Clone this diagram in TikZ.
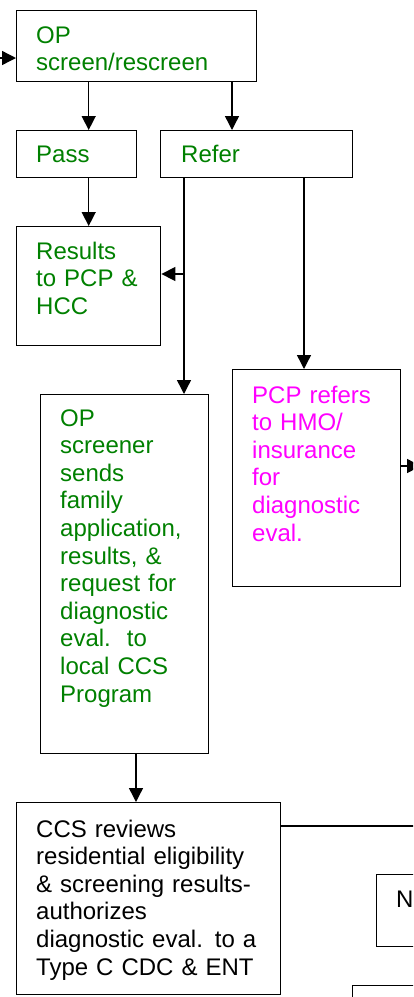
\documentclass[tikz,border=0pt]{standalone}
\usepackage{fontspec}
\setmainfont{Liberation Sans}
\usetikzlibrary{arrows.meta}
\definecolor{tgreen}{RGB}{0,128,0}
\definecolor{tmag}{RGB}{255,0,255}
\begin{document}
\begin{tikzpicture}[x=1pt,y=-1pt,
  box/.style={draw, line width=1.4pt, inner sep=0pt, anchor=north west},
  txt/.style={anchor=base west, inner sep=0pt, text width=#1, align=left, font=\fontsize{24}{27.6}\selectfont},
  txt/.default=150pt,
  arr/.style={line width=1.4pt, -{Triangle[length=14pt,width=14pt]}},
  ln/.style={line width=1.4pt}]
\useasboundingbox (0,0) rectangle (413,997);
\clip (0,0) rectangle (413,997);
% boxes
\node[box, minimum width=240pt, minimum height=71pt] (op) at (16,10) {};
\node[box, minimum width=120pt, minimum height=47pt] (pass) at (16,130) {};
\node[box, minimum width=192pt, minimum height=47pt] (refer) at (160,130) {};
\node[box, minimum width=144pt, minimum height=119pt] (res) at (16,226) {};
\node[box, minimum width=168pt, minimum height=359pt] (scr) at (40,394) {};
\node[box, minimum width=168pt, minimum height=217pt] (pcp) at (232,369) {};
\node[box, minimum width=264pt, minimum height=192pt] (ccs) at (16,802) {};
\node[box, minimum width=60pt, minimum height=72pt] (nbox) at (376,874) {};
\node[box, minimum width=80pt, minimum height=40pt] (bot) at (352,985) {};
% texts
\node[txt=200pt, text=tgreen] (opt) at (36,43) {OP\\screen/rescreen};
\node[txt, text=tgreen] (passt) at (36,162) {Pass};
\node[txt, text=tgreen] (refert) at (181,162) {Refer};
\node[txt, text=tgreen] (rest) at (36,259) {Results\\to PCP \&\\HCC};
\node[txt, text=tgreen] (scrt) at (60,426) {OP\\screener\\sends\\family\\application,\\results, \&\\request for\\diagnostic\\eval.\ \ to\\local CCS\\Program};
\node[txt, text=tmag] (pcpt) at (252,403) {PCP refers\\to HMO/\\insurance\\for\\diagnostic\\eval.};
\node[txt=240pt] (ccst) at (36,837) {CCS reviews\\residential eligibility\\\& screening results-\\authorizes\\diagnostic eval. to a\\Type C CDC \& ENT};
\node[txt=40pt] (nt) at (396,907) {N};
% connectors
\coordinate (in0) at (-10,58);
\coordinate (x232) at (232,0);
\coordinate (j184) at (184,274);
\coordinate (x304) at (304,0);
\coordinate (x136) at (136,0);
\coordinate (out1) at (421,466);
\coordinate (out2) at (420,826);
\draw[arr] (in0) -- (in0 -| op.west);
\draw[arr] (op.south -| res.north) -- (pass.north -| res.north);
\draw[arr] (pass.south -| res.north) -- (res.north);
\draw[arr] (op.south -| x232) -- (refer.north -| x232);
\draw[arr] (refer.south -| j184) -- (scr.north -| j184);
\draw[arr] (j184) -- (j184 -| res.east);
\draw[arr] (refer.south -| x304) -- (pcp.north -| x304);
\draw[arr] (pcp.east |- out1) -- (out1);
\draw[arr] (scr.south -| x136) -- (ccs.north -| x136);
\draw[ln] (ccs.east |- out2) -- (out2);
\end{tikzpicture}
\end{document}
